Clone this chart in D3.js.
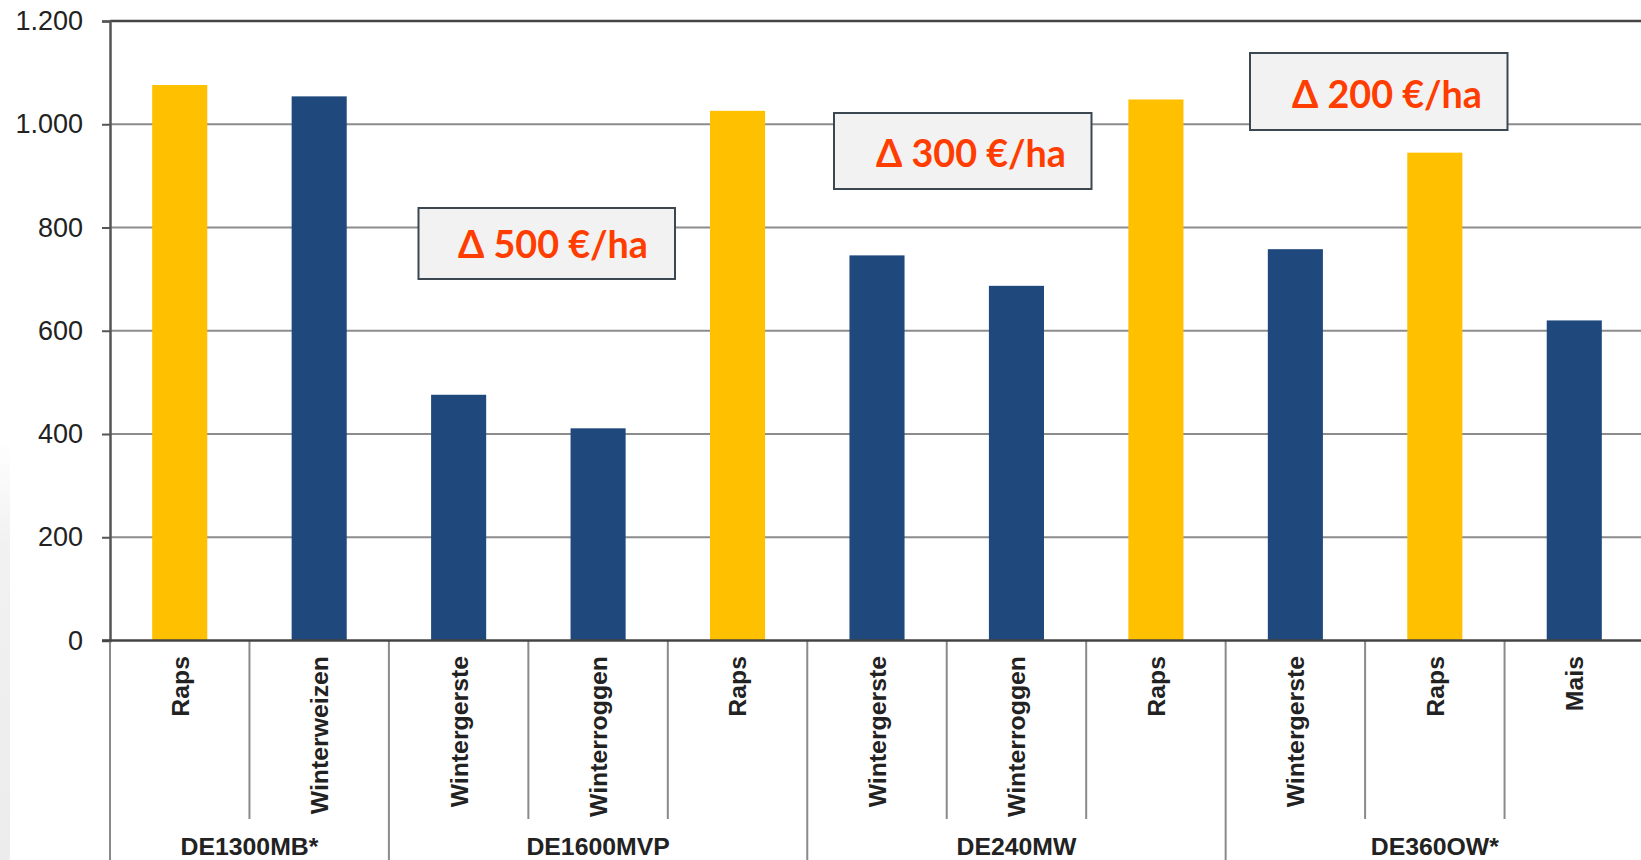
<!DOCTYPE html>
<html>
<head>
<meta charset="utf-8">
<script src="https://cdn.jsdelivr.net/npm/d3@7"></script>
<style>
  html, body { margin: 0; padding: 0; background: #ffffff; }
  svg { display: block; }
</style>
</head>
<body>
<svg id="chart" width="1641" height="860"></svg>
<script>
// ---- data ----
const categories = ["Raps", "Winterweizen", "Wintergerste", "Winterroggen", "Raps",
                    "Wintergerste", "Winterroggen", "Raps", "Wintergerste", "Raps", "Mais"];
const values = [1076, 1054, 476, 411, 1026, 746, 687, 1048, 758, 945, 620];
const cropType = ["raps", "other", "other", "other", "raps", "other", "other", "raps", "other", "raps", "other"];
const groups = ["DE1300MB*", "DE1600MVP", "DE240MW", "DE360OW*"];
const groupStart = [0, 2, 5, 8];
const groupEnd = [2, 5, 8, 11];
const yTicks = [0, 200, 400, 600, 800, 1000, 1200];
const yTickLabels = ["0", "200", "400", "600", "800", "1.000", "1.200"];
const annotationTexts = ["\u0394 500 \u20AC/ha", "\u0394 300 \u20AC/ha", "\u0394 200 \u20AC/ha"];

// ---- layout ----
const W = 1641, H = 860;
const plotLeft = 110, plotRight = 1644, plotTop = 21, plotBottom = 640.5;
const colors = { raps: "#ffc000", other: "#1f497d" };
const annotationBoxes = [
  { x: 418.5, y: 208, w: 256.5, h: 71, tx: 553, ty: 258 },
  { x: 834, y: 113, w: 257.5, h: 76, tx: 971, ty: 167 },
  { x: 1250, y: 53, w: 257.5, h: 77, tx: 1387, ty: 107.5 }
];

const svg = d3.select("#chart");

// left-edge shadow
const defs = svg.append("defs");
const grad = defs.append("linearGradient").attr("id", "shadow")
  .attr("x1", "0").attr("y1", "0").attr("x2", "0").attr("y2", "1");
grad.append("stop").attr("offset", "0").attr("stop-color", "#ffffff");
grad.append("stop").attr("offset", "0.25").attr("stop-color", "#f1f1f1");
grad.append("stop").attr("offset", "1").attr("stop-color", "#ececec");
svg.append("rect").attr("x", 0).attr("y", 440).attr("width", 10).attr("height", H - 440)
  .attr("fill", "url(#shadow)");

const x = d3.scaleBand().domain(d3.range(categories.length)).range([plotLeft, plotRight]).padding(0);
const y = d3.scaleLinear().domain([0, 1200]).range([plotBottom, plotTop]);

// gridlines
svg.append("g").selectAll("line").data(yTicks.filter(t => t > 0 && t < 1200)).join("line")
  .attr("x1", plotLeft).attr("x2", W + 5)
  .attr("y1", d => y(d)).attr("y2", d => y(d))
  .attr("stroke", "#8c8c8c").attr("stroke-width", 2);
// top border
svg.append("line").attr("x1", plotLeft).attr("x2", W + 5)
  .attr("y1", y(1200)).attr("y2", y(1200))
  .attr("stroke", "#444").attr("stroke-width", 2.5);

// bars
const barFrac = 0.395;
svg.append("g").selectAll("rect").data(values).join("rect")
  .attr("x", (d, i) => x(i) + x.bandwidth() * (1 - barFrac) / 2)
  .attr("width", x.bandwidth() * barFrac)
  .attr("y", d => y(d))
  .attr("height", d => y(0) - y(d))
  .attr("fill", (d, i) => colors[cropType[i]]);

// y axis
const yAxis = d3.axisLeft(y).tickValues(yTicks)
  .tickFormat((d, i) => yTickLabels[i]).tickSize(8).tickPadding(19);
const gy = svg.append("g").attr("transform", `translate(${plotLeft},0)`).call(yAxis);
gy.select(".domain").attr("stroke", "#555").attr("stroke-width", 2.5);
gy.selectAll(".tick line").attr("stroke", "#555").attr("stroke-width", 2);
gy.selectAll(".tick text").attr("fill", "#222")
  .style("font-family", "'Liberation Sans', Arial, sans-serif").style("font-size", "27px");

// category separators below axis
const boundaries = d3.range(1, categories.length);
const groupBoundaries = groupStart.slice(1);
svg.append("g").selectAll("line").data(boundaries).join("line")
  .attr("x1", d => x(d)).attr("x2", d => x(d))
  .attr("y1", plotBottom)
  .attr("y2", d => groupBoundaries.includes(d) ? H + 5 : 819)
  .attr("stroke", "#8a8a8a").attr("stroke-width", 2);
svg.append("line").attr("x1", plotLeft).attr("x2", plotLeft)
  .attr("y1", plotBottom).attr("y2", H + 5)
  .attr("stroke", "#8a8a8a").attr("stroke-width", 2);

// zero line
svg.append("line").attr("x1", plotLeft - 8).attr("x2", W + 5)
  .attr("y1", y(0)).attr("y2", y(0))
  .attr("stroke", "#444").attr("stroke-width", 2.5);

// category labels (rotated)
svg.append("g").selectAll("text").data(categories).join("text")
  .attr("transform", (d, i) => `translate(${x(i) + x.bandwidth() / 2},656) rotate(-90)`)
  .attr("text-anchor", "end")
  .attr("dy", "0.36em")
  .attr("fill", "#222")
  .style("font-family", "'Liberation Sans', Arial, sans-serif")
  .style("font-weight", "bold").style("font-size", "24.8px")
  .text(d => d);

// group labels
svg.append("g").selectAll("text").data(groups).join("text")
  .attr("x", (d, i) => (x(groupStart[i]) + (groupEnd[i] >= categories.length ? plotRight : x(groupEnd[i]))) / 2)
  .attr("y", 855)
  .attr("text-anchor", "middle")
  .attr("fill", "#222")
  .style("font-family", "'Liberation Sans', Arial, sans-serif")
  .style("font-weight", "bold").style("font-size", "24.8px")
  .text(d => d);

// annotation boxes
const ann = svg.append("g").selectAll("g").data(annotationTexts).join("g");
ann.append("rect")
  .attr("x", (d, i) => annotationBoxes[i].x).attr("y", (d, i) => annotationBoxes[i].y)
  .attr("width", (d, i) => annotationBoxes[i].w).attr("height", (d, i) => annotationBoxes[i].h)
  .attr("fill", "#f2f2f2").attr("stroke", "#3b4852").attr("stroke-width", 2);
ann.append("text")
  .attr("x", (d, i) => annotationBoxes[i].tx).attr("y", (d, i) => annotationBoxes[i].ty)
  .attr("text-anchor", "middle")
  .attr("fill", "#ff3d00")
  .attr("textLength", 190).attr("lengthAdjust", "spacingAndGlyphs")
  .style("font-family", "Lato, 'Open Sans', sans-serif")
  .style("font-weight", "bold").style("font-size", "38px")
  .text(d => d);
</script>
</body>
</html>
